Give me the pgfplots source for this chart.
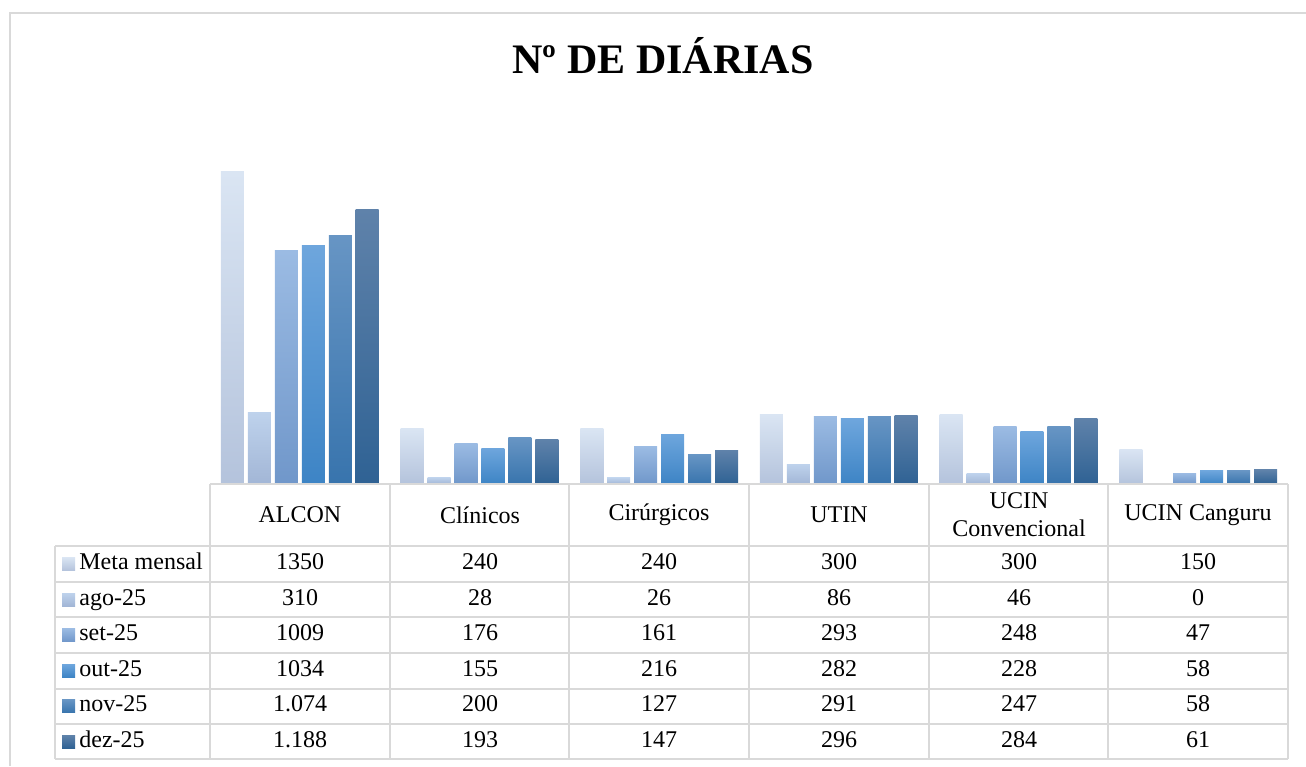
\documentclass[border=0pt]{standalone}
\usepackage{pgfplots}
\pgfplotsset{compat=1.18}
\usepackage{fontspec}
\setmainfont{Liberation Serif}
\definecolor{gridc}{HTML}{D9D9D9}
\definecolor{c1t}{HTML}{DAE5F3}\definecolor{c1b}{HTML}{B4C3DC}
\definecolor{c2t}{HTML}{BED2EC}\definecolor{c2b}{HTML}{A2B6D6}
\definecolor{c3t}{HTML}{9BBBE3}\definecolor{c3b}{HTML}{7097CA}
\definecolor{c4t}{HTML}{6EA6DD}\definecolor{c4b}{HTML}{3D84C5}
\definecolor{c5t}{HTML}{6795C4}\definecolor{c5b}{HTML}{3874AD}
\definecolor{c6t}{HTML}{5F82AA}\definecolor{c6b}{HTML}{2F6294}
\pgfplotsset{
  s1/.style={ybar, bar shift=-0.375, draw=none, top color=c1t, bottom color=c1b},
  s2/.style={ybar, bar shift=-0.225, draw=none, top color=c2t, bottom color=c2b},
  s3/.style={ybar, bar shift=-0.075, draw=none, top color=c3t, bottom color=c3b},
  s4/.style={ybar, bar shift=0.075, draw=none, top color=c4t, bottom color=c4b},
  s5/.style={ybar, bar shift=0.225, draw=none, top color=c5t, bottom color=c5b},
  s6/.style={ybar, bar shift=0.375, draw=none, top color=c6t, bottom color=c6b},
}
\begin{document}
\begin{tikzpicture}
\path[use as bounding box] (0pt,0pt) rectangle (653pt,-383pt);
\begin{axis}[
  at={(105pt,-242pt)}, anchor=south west,
  scale only axis, width=539pt, height=184.9pt,
  xmin=-0.5, xmax=5.5, ymin=0, ymax=1600,
  hide axis, clip=false,
  bar width=0.128,
]
% Meta mensal
\addplot[s1] coordinates {(0,1350)};
\addplot[s1] coordinates {(1,240)};
\addplot[s1] coordinates {(2,240)};
\addplot[s1] coordinates {(3,300)};
\addplot[s1] coordinates {(4,300)};
\addplot[s1] coordinates {(5,150)};
% ago-25
\addplot[s2] coordinates {(0,310)};
\addplot[s2] coordinates {(1,28)};
\addplot[s2] coordinates {(2,26)};
\addplot[s2] coordinates {(3,86)};
\addplot[s2] coordinates {(4,46)};
\addplot[ybar, bar shift=-0.225, draw=none, fill=c2t] coordinates {(5,0)};
% set-25
\addplot[s3] coordinates {(0,1009)};
\addplot[s3] coordinates {(1,176)};
\addplot[s3] coordinates {(2,161)};
\addplot[s3] coordinates {(3,293)};
\addplot[s3] coordinates {(4,248)};
\addplot[s3] coordinates {(5,47)};
% out-25
\addplot[s4] coordinates {(0,1034)};
\addplot[s4] coordinates {(1,155)};
\addplot[s4] coordinates {(2,216)};
\addplot[s4] coordinates {(3,282)};
\addplot[s4] coordinates {(4,228)};
\addplot[s4] coordinates {(5,58)};
% nov-25
\addplot[s5] coordinates {(0,1074)};
\addplot[s5] coordinates {(1,200)};
\addplot[s5] coordinates {(2,127)};
\addplot[s5] coordinates {(3,291)};
\addplot[s5] coordinates {(4,247)};
\addplot[s5] coordinates {(5,58)};
% dez-25
\addplot[s6] coordinates {(0,1188)};
\addplot[s6] coordinates {(1,193)};
\addplot[s6] coordinates {(2,147)};
\addplot[s6] coordinates {(3,296)};
\addplot[s6] coordinates {(4,284)};
\addplot[s6] coordinates {(5,61)};
\end{axis}
\begin{scope}[x=0.5pt,y=-0.5pt]
% outer frame
\draw[gridc, line width=1pt] (9.5,766) -- (9.5,13) -- (1306,13);
% title
\node[anchor=base, font=\fontsize{21pt}{24pt}\selectfont\bfseries] at (663,73) {Nº DE DIÁRIAS};
% table grid
\begin{scope}[gridc, line width=1pt]
\draw (210,484) -- (1288,484);
\foreach \yy in {546,581.7,617.3,652.7,688.7,724,759.3} {\draw (55,\yy) -- (1288,\yy);}
\draw (55,546) -- (55,759.3);
\foreach \k in {0,...,6} {\draw ({210+179.67*\k},484) -- ({210+179.67*\k},759.3);}
\end{scope}
% header labels
\begin{scope}[font=\fontsize{12pt}{14pt}\selectfont]
\node at (300,515) {ALCON};
\node at (480,515) {Clínicos};
\node at (659,515) {Cirúrgicos};
\node at (839,515) {UTIN};
\node[align=center] at (1019,515) {UCIN\\Convencional};
\node at (1198,515) {UCIN Canguru};
% row labels with legend keys
\foreach \lab/\ct/\cb/\yy in {Meta mensal/c1t/c1b/563.8, ago-25/c2t/c2b/599.5, set-25/c3t/c3b/635, out-25/c4t/c4b/670.7, nov-25/c5t/c5b/706.3, dez-25/c6t/c6b/741.7} {
  \shade[top color=\ct, bottom color=\cb] (62,\yy-6.5) rectangle (75,\yy+6.5);
  \node[anchor=mid west, inner sep=0pt] at (79,\yy+1) {\lab};
}
% values
\foreach \a/\b/\c/\d/\e/\f/\yy in {1350/240/240/300/300/150/563.8, 310/28/26/86/46/0/599.5, 1009/176/161/293/248/47/635, 1034/155/216/282/228/58/670.7, 1.074/200/127/291/247/58/706.3, 1.188/193/147/296/284/61/741.7} {
  \node[anchor=mid, inner sep=0pt] at (300,\yy+1) {\a};
  \node[anchor=mid, inner sep=0pt] at (480,\yy+1) {\b};
  \node[anchor=mid, inner sep=0pt] at (659,\yy+1) {\c};
  \node[anchor=mid, inner sep=0pt] at (839,\yy+1) {\d};
  \node[anchor=mid, inner sep=0pt] at (1019,\yy+1) {\e};
  \node[anchor=mid, inner sep=0pt] at (1198,\yy+1) {\f};
}
\end{scope}
\end{scope}
\end{tikzpicture}
\end{document}
